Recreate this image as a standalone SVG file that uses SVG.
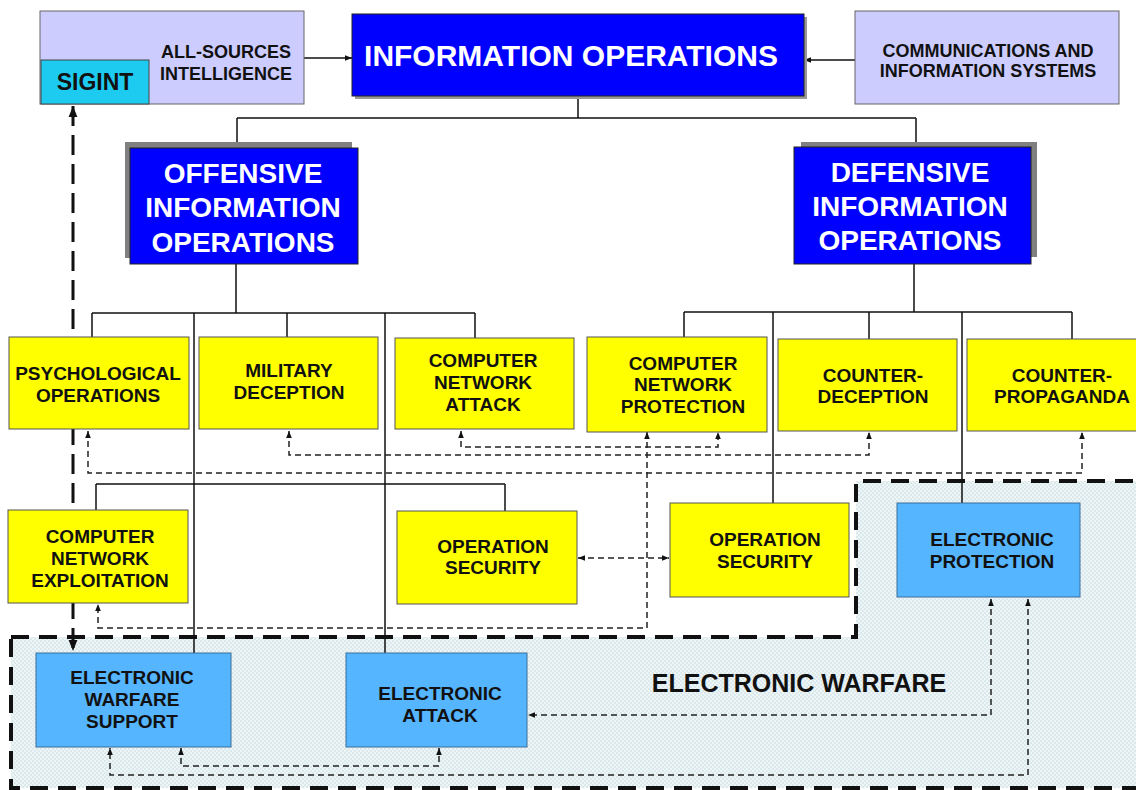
<svg xmlns="http://www.w3.org/2000/svg" width="1136" height="790" viewBox="0 0 1136 790">
<style>
text{font-family:"Liberation Sans",Arial,sans-serif;font-weight:bold;fill:#111;text-anchor:middle}
.w{fill:#fff}
.y{fill:#ffff00;stroke:#555;stroke-width:1}
.b{fill:#55b5ff;stroke:#3a6f99;stroke-width:1}
.lav{fill:#ccccff;stroke:#666;stroke-width:1}
.blue{fill:#0000ff;stroke:#222;stroke-width:1}
.s{fill:none;stroke:#111;stroke-width:1.5}
.d{fill:none;stroke:#222;stroke-width:1.5;stroke-dasharray:6 4}
.y text,.t19{font-size:19px}
</style>
<defs>
<pattern id="dots" width="4" height="4" patternUnits="userSpaceOnUse">
<rect width="4" height="4" fill="#edf5f7"/>
<circle cx="1" cy="1" r="0.7" fill="#bdd3da"/>
<circle cx="3" cy="3" r="0.7" fill="#bdd3da"/>
</pattern>
<marker id="a" viewBox="0 0 10 10" refX="10" refY="5" markerWidth="7" markerHeight="7" markerUnits="userSpaceOnUse" orient="auto-start-reverse">
<path d="M0,1 L10,5 L0,9 Z" fill="#111"/>
</marker>
<marker id="A" viewBox="0 0 10 10" refX="10" refY="5" markerWidth="11" markerHeight="11" markerUnits="userSpaceOnUse" orient="auto-start-reverse">
<path d="M0,1 L10,5 L0,9 Z" fill="#111"/>
</marker>
</defs>
<rect width="1136" height="790" fill="#fff"/>

<g id="ew-region">
<path d="M11 637 L856 637 L856 481 L1142 481 L1142 788 L11 788 Z" fill="url(#dots)" stroke="#111" stroke-width="4" stroke-dasharray="18 10"/>
<text x="799" y="692" style="font-size:25px">ELECTRONIC WARFARE</text>
</g>

<g id="connectors">
<path class="s" d="M304 58 L352 58" marker-end="url(#a)"/>
<path class="s" d="M855 60 L804 60" marker-end="url(#a)"/>
<path class="s" d="M578 96 L578 118 M237 118 L916 118 M237 118 L237 148 M916 118 L916 147"/>
<path class="s" d="M236 264 L236 313 M92 313 L475 313 M92 313 L92 337 M287 313 L287 337 M475 313 L475 338 M194 313 L194 653 M385 313 L385 653"/>
<path class="s" d="M914 264 L914 312 M684 312 L1072 312 M684 312 L684 337 M869 312 L869 339 M1072 312 L1072 339 M773 312 L773 503 M962 312 L962 503"/>
<path class="s" d="M96 484 L505 484 M96 484 L96 510 M505 484 L505 511"/>
<path fill="none" stroke="#111" stroke-width="3" stroke-dasharray="20 9" d="M73 106 L73 651" marker-start="url(#A)" marker-end="url(#A)"/>
<path class="d" d="M88 431 L88 473 L1082 473 L1082 432" marker-start="url(#a)" marker-end="url(#a)"/>
<path class="d" d="M289 431 L289 455 L869 455 L869 432" marker-start="url(#a)" marker-end="url(#a)"/>
<path class="d" d="M461 431 L461 447 L718 447 L718 432" marker-start="url(#a)" marker-end="url(#a)"/>
<path class="d" d="M647 432 L647 628 L98 628 L98 604" marker-start="url(#a)" marker-end="url(#a)"/>
<path class="d" d="M578 558 L669 558" marker-start="url(#a)" marker-end="url(#a)"/>
<path class="d" d="M991 599 L991 715 L528 715" marker-start="url(#a)" marker-end="url(#a)"/>
<path class="d" d="M1028 599 L1028 775 L110 775 L110 748" marker-start="url(#a)" marker-end="url(#a)"/>
<path class="d" d="M181 748 L181 766 L439 766 L439 748" marker-start="url(#a)" marker-end="url(#a)"/>
</g>

<g id="all-sources">
<rect class="lav" x="40" y="11" width="264" height="93"/>
<text x="226" y="58" style="font-size:18px">ALL-SOURCES</text>
<text x="226" y="80" style="font-size:18px">INTELLIGENCE</text>
</g>
<g id="sigint">
<rect x="41" y="60" width="108" height="44" fill="#1ecbf0" stroke="#444" stroke-width="1"/>
<text x="95" y="90" style="font-size:23px">SIGINT</text>
</g>
<g id="information-operations">
<rect x="355" y="17" width="452" height="82" fill="#999"/>
<rect class="blue" x="352" y="14" width="452" height="82"/>
<text class="w" x="571" y="66" style="font-size:30px">INFORMATION OPERATIONS</text>
</g>
<g id="comms">
<rect class="lav" x="855" y="11" width="264" height="93"/>
<text x="988" y="57" style="font-size:18px">COMMUNICATIONS AND</text>
<text x="988" y="77" style="font-size:18px">INFORMATION SYSTEMS</text>
</g>
<g id="offensive">
<rect x="125" y="142" width="227" height="116" fill="#808080"/>
<rect class="blue" x="130" y="148" width="228" height="116"/>
<text class="w" x="243" y="183" style="font-size:28px">OFFENSIVE</text>
<text class="w" x="243" y="217" style="font-size:28px">INFORMATION</text>
<text class="w" x="243" y="252" style="font-size:28px">OPERATIONS</text>
</g>
<g id="defensive">
<rect x="801" y="142" width="236" height="115" fill="#808080"/>
<rect class="blue" x="794" y="147" width="237" height="117"/>
<text class="w" x="910" y="182" style="font-size:28px">DEFENSIVE</text>
<text class="w" x="910" y="216" style="font-size:28px">INFORMATION</text>
<text class="w" x="910" y="250" style="font-size:28px">OPERATIONS</text>
</g>

<g id="psyop" class="t19">
<rect class="y" x="9" y="337" width="180" height="92"/>
<text x="98" y="380">PSYCHOLOGICAL</text>
<text x="98" y="402">OPERATIONS</text>
</g>
<g id="mildec" class="t19">
<rect class="y" x="199" y="337" width="179" height="92"/>
<text x="289" y="377">MILITARY</text>
<text x="289" y="399">DECEPTION</text>
</g>
<g id="cna" class="t19">
<rect class="y" x="395" y="338" width="179" height="91"/>
<text x="483" y="367">COMPUTER</text>
<text x="483" y="389">NETWORK</text>
<text x="483" y="411">ATTACK</text>
</g>
<g id="cnp" class="t19">
<rect class="y" x="587" y="337" width="180" height="95"/>
<text x="683" y="370">COMPUTER</text>
<text x="683" y="391">NETWORK</text>
<text x="683" y="413">PROTECTION</text>
</g>
<g id="counter-deception" class="t19">
<rect class="y" x="778" y="339" width="179" height="92"/>
<text x="873" y="382">COUNTER-</text>
<text x="873" y="403">DECEPTION</text>
</g>
<g id="counter-propaganda" class="t19">
<rect class="y" x="967" y="339" width="180" height="92"/>
<text x="1062" y="382">COUNTER-</text>
<text x="1062" y="403">PROPAGANDA</text>
</g>
<g id="cne" class="t19">
<rect class="y" x="8" y="510" width="180" height="93"/>
<text x="100" y="543">COMPUTER</text>
<text x="100" y="565">NETWORK</text>
<text x="100" y="587">EXPLOITATION</text>
</g>
<g id="opsec-offensive" class="t19">
<rect class="y" x="397" y="511" width="180" height="93"/>
<text x="493" y="553">OPERATION</text>
<text x="493" y="574">SECURITY</text>
</g>
<g id="opsec-defensive" class="t19">
<rect class="y" x="670" y="503" width="179" height="94"/>
<text x="765" y="546">OPERATION</text>
<text x="765" y="568">SECURITY</text>
</g>
<g id="electronic-protection" class="t19">
<rect class="b" x="897" y="503" width="183" height="94"/>
<text x="992" y="546">ELECTRONIC</text>
<text x="992" y="568">PROTECTION</text>
</g>
<g id="ew-support" class="t19">
<rect class="b" x="36" y="653" width="195" height="94"/>
<text x="132" y="684">ELECTRONIC</text>
<text x="132" y="706">WARFARE</text>
<text x="132" y="728">SUPPORT</text>
</g>
<g id="electronic-attack" class="t19">
<rect class="b" x="346" y="653" width="181" height="94"/>
<text x="440" y="700">ELECTRONIC</text>
<text x="440" y="722">ATTACK</text>
</g>
</svg>
